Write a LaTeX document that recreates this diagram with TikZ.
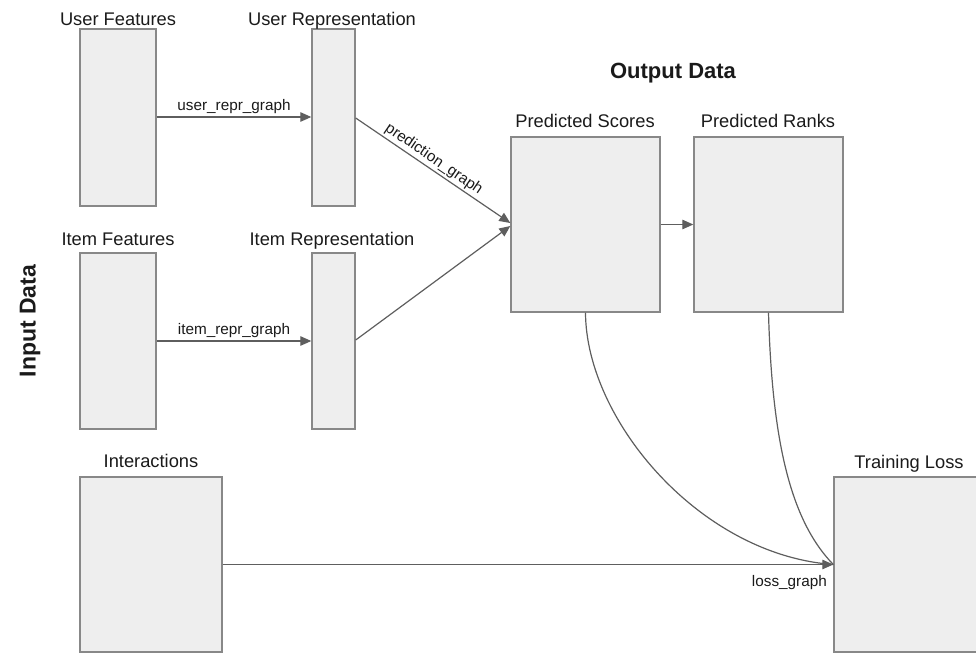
\documentclass[tikz,border=0pt]{standalone}
\usepackage{fontspec}
\setmainfont{Liberation Sans}
\usetikzlibrary{arrows.meta}
\definecolor{boxfill}{HTML}{EEEEEE}
\definecolor{boxline}{HTML}{888888}
\definecolor{linegray}{HTML}{5E5E5E}
\definecolor{txt}{HTML}{1A1A1A}
\begin{document}
\begin{tikzpicture}[x=1pt,y=-1pt,
  databox/.style={draw=boxline, fill=boxfill, line width=1.4pt, inner sep=0pt, minimum width=#1},
  boxlabel/.style={anchor=base, text=txt, font=\fontsize{18.3}{22}\selectfont, inner sep=0pt},
  edgelabel/.style={text=txt, font=\fontsize{15.3}{18}\selectfont},
  title/.style={text=txt, font=\fontsize{22}{26}\selectfont\bfseries},
  conn/.style={draw=linegray, line width=1.2pt},
  arr/.style={conn, -{Triangle[length=11pt,width=9.5pt]}}
]
\useasboundingbox (0,0) rectangle (976,654);
% boxes
\node[databox=76pt, minimum height=177pt] (uf) at (118,117.5) {};
\node[databox=43pt, minimum height=177pt] (ur) at (333.5,117.5) {};
\node[databox=76pt, minimum height=176pt] (if) at (118,341) {};
\node[databox=43pt, minimum height=176pt] (ir) at (333.5,341) {};
\node[databox=149pt, minimum height=175pt] (ps) at (585.5,224.5) {};
\node[databox=149pt, minimum height=175pt] (pr) at (768.5,224.5) {};
\node[databox=142pt, minimum height=175pt] (ia) at (151,564.5) {};
\node[databox=150pt, minimum height=175pt] (tl) at (909,564.5) {};
% labels
\node[boxlabel] (ufl) at (118,25) {User Features};
\node[boxlabel] (url) at (332,25) {User Representation};
\node[boxlabel] (ifl) at (118,245) {Item Features};
\node[boxlabel] (irl) at (332,245) {Item Representation};
\node[boxlabel] (psl) at (585,127) {Predicted Scores};
\node[boxlabel] (prl) at (768,127) {Predicted Ranks};
\node[boxlabel] (ial) at (151,467) {Interactions};
\node[boxlabel] (tll) at (909,468) {Training Loss};
\node[title] (out) at (673,73) {Output Data};
\node[title, rotate=90, font=\fontsize{23}{26}\selectfont\bfseries] (in) at (30,321) {Input Data};
% connectors
\draw[arr] (uf.east |- 0,117) -- node[edgelabel, midway, above, inner sep=3pt] {user\_repr\_graph} (ur.west |- 0,117);
\draw[arr] (if.east |- 0,341) -- node[edgelabel, midway, above, inner sep=3pt] {item\_repr\_graph} (ir.west |- 0,341);
\coordinate (psin1) at ([yshift=1.5pt]ps.west);
\coordinate (psin2) at ([yshift=-1.5pt]ps.west);
\draw[arr] (ur.east |- 0,118) -- node[edgelabel, pos=0.47, above, sloped, inner sep=2pt] {prediction\_graph} (psin1);
\draw[arr] (ir.east |- 0,340) -- (psin2);
\draw[arr] (ps.east) -- (pr.west);
\draw[conn] (ps.south) .. controls (586,420) and (700,555) .. (tl.west);
\draw[conn] (pr.south) .. controls (772,440) and (790,520) .. (tl.west);
\draw[arr] (ia.east) -- (tl.west);
\node[edgelabel, anchor=base east, inner sep=0pt] (lg) at (827,586) {loss\_graph};
\end{tikzpicture}
\end{document}
